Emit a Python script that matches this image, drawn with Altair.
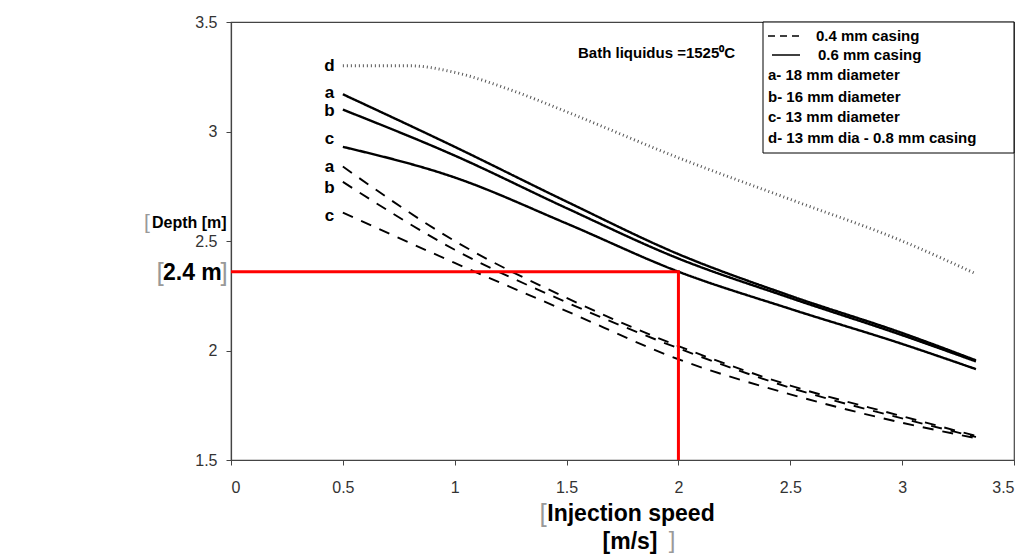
import altair as alt
import pandas as pd

FONT = "Liberation Sans"

# ---- data ----
speed = [0.5, 1.0, 1.5, 2.0, 2.5, 3.0, 3.33]
solid_a = [3.17, 2.93, 2.68, 2.44, 2.25, 2.08, 1.955]
solid_b = [3.10, 2.89, 2.65, 2.42, 2.24, 2.07, 1.95]
solid_c = [2.93, 2.79, 2.58, 2.36, 2.19, 2.03, 1.915]
dash_a = [2.84, 2.50, 2.24, 2.02, 1.84, 1.70, 1.61]
dash_b = [2.77, 2.46, 2.22, 2.01, 1.83, 1.69, 1.605]
dash_c = [2.63, 2.40, 2.18, 1.96, 1.80, 1.67, 1.60]
d_speed = [0.5, 0.8, 1.0, 1.25, 1.5, 2.0, 2.5, 3.0, 3.33]
d_depth = [3.30, 3.30, 3.27, 3.19, 3.09, 2.88, 2.69, 2.50, 2.35]

red_x = [0.0, 2.0, 2.0]
red_y = [2.36, 2.36, 1.5]

label_text = ["d", "a", "b", "c", "a", "b", "c"]
label_depth = [3.30, 3.176, 3.094, 2.966, 2.838, 2.742, 2.614]
label_speed = [0.44] * 7

x_ticks = [0, 0.5, 1, 1.5, 2, 2.5, 3, 3.5]
y_ticks = [1.5, 2, 2.5, 3, 3.5]

legend_rows = ["0.4 mm casing", "0.6 mm casing", "a-  18 mm diameter",
               "b-  16 mm diameter", "c-  13 mm diameter",
               "d-  13 mm dia - 0.8 mm casing"]

# ---- build table ----
rows = []
for name, casing, xs, ys in [
    ("sa", "0.6", speed, solid_a), ("sb", "0.6", speed, solid_b), ("sc", "0.6", speed, solid_c),
    ("da", "0.4", speed, dash_a), ("db", "0.4", speed, dash_b), ("dc", "0.4", speed, dash_c),
    ("dd", "0.8", d_speed, d_depth)]:
    for x, y in zip(xs, ys):
        rows.append({"series": name, "casing": casing, "speed": x, "depth": y})
df = pd.DataFrame(rows)

xscale = alt.Scale(domain=[0, 3.5], nice=False)
yscale = alt.Scale(domain=[1.5, 3.5], nice=False)

lines = alt.Chart(df).mark_line(interpolate="monotone").encode(
    x=alt.X("speed:Q", scale=xscale,
            axis=alt.Axis(values=x_ticks, format="~g", title=None, labelPadding=14)),
    y=alt.Y("depth:Q", scale=yscale,
            axis=alt.Axis(values=y_ticks, format="~g", title=None, labelPadding=9)),
    detail="series:N",
    color=alt.Color("casing:N", scale=alt.Scale(domain=["0.4", "0.6", "0.8"],
                    range=["black", "black", "#555555"]), legend=None),
    strokeDash=alt.StrokeDash("casing:N", scale=alt.Scale(domain=["0.4", "0.6", "0.8"],
                              range=[[11, 9], [1, 0], [1, 3]]), legend=None),
    strokeWidth=alt.StrokeWidth("casing:N", scale=alt.Scale(domain=["0.4", "0.6", "0.8"],
                                range=[1.9, 2.9, 1.1]), legend=None),
)

red_df = pd.DataFrame({"speed": red_x, "depth": red_y, "o": [0, 1, 2]})
red = alt.Chart(red_df).mark_line(color="#ff0000", strokeWidth=3).encode(
    x=alt.X("speed:Q", scale=xscale), y=alt.Y("depth:Q", scale=yscale), order="o:Q")

lab_df = pd.DataFrame({"speed": label_speed, "depth": label_depth, "t": label_text})
labels = alt.Chart(lab_df).mark_text(fontSize=17, fontWeight="bold", font=FONT,
                                     baseline="middle", align="center", color="black").encode(
    x=alt.X("speed:Q", scale=xscale), y=alt.Y("depth:Q", scale=yscale), text="t:N")


def txt(s, x, y, size, bold=True, color="black", align="left"):
    return alt.Chart(pd.DataFrame({"t": [s]})).mark_text(
        align=align, baseline="middle", fontSize=size,
        fontWeight="bold" if bold else "normal", font=FONT, color=color
    ).encode(text="t:N", x=alt.value(x), y=alt.value(y))


box = alt.Chart(pd.DataFrame({"a": [0]})).mark_rect(
    fill="white", stroke="black", strokeWidth=1).encode(
    x=alt.value(532), x2=alt.value(783), y=alt.value(0), y2=alt.value(131))
sym1 = alt.Chart(pd.DataFrame({"a": [0]})).mark_rule(
    color="black", strokeWidth=1.5, strokeDash=[7, 5]).encode(
    x=alt.value(537), x2=alt.value(572), y=alt.value(14))
sym2 = alt.Chart(pd.DataFrame({"a": [0]})).mark_rule(
    color="black", strokeWidth=1.5).encode(
    x=alt.value(541), x2=alt.value(569), y=alt.value(33))

leg_y = [14, 33, 53, 75, 95, 116]
leg_x = [585, 587, 537, 537, 537, 537]
leg_texts = [txt(s, x, y, 15) for s, x, y in zip(legend_rows, leg_x, leg_y)]

annots = [
    txt("Bath liquidus =1525\u2070C", 347, 31, 15),
    txt("Depth [m]", -79, 201, 16),
    txt("[", -84, 201, 21, bold=False, color="#999", align="center"),
    txt("2.4 m", -68, 251, 23),
    txt("[", -71, 251, 26, bold=False, color="#999", align="center"),
    txt("]", -7, 251, 26, bold=False, color="#999", align="center"),
    txt("Injection speed", 400, 492, 23, align="center"),
    txt("[m/s]", 399, 520, 23, align="center"),
    txt("[", 312, 492, 26, bold=False, color="#999", align="center"),
    txt("]", 441, 519, 24, bold=False, color="#999", align="center"),
]

chart = alt.layer(lines, red, labels, box, sym1, sym2, *leg_texts, *annots).properties(
    width=783, height=438,
    autosize=alt.AutoSizeParams(type="none"),
    padding={"left": 223, "top": 14, "right": 6, "bottom": 96},
    background="white",
).configure_axis(
    labelFont=FONT, labelFontSize=16, labelColor="#333", domainColor="#444",
    tickColor="#444", tickSize=5, grid=False, domainWidth=1.2,
).configure_view(stroke="#444", strokeWidth=1.2)

chart.save("out.html", embed_options={"renderer": "svg", "actions": False})
